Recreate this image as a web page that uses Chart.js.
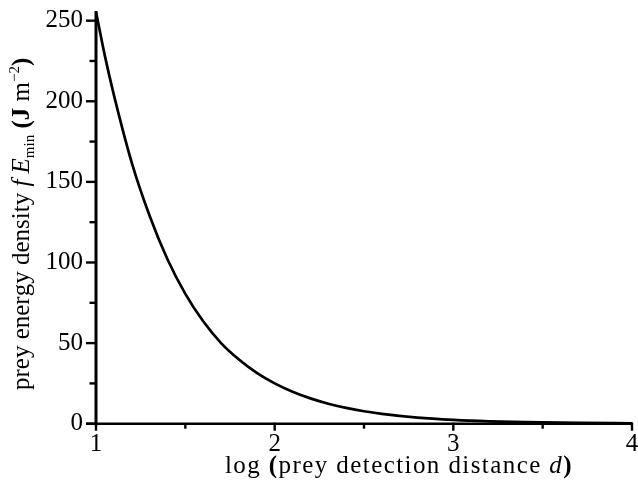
<!DOCTYPE html>
<html>
<head>
<meta charset="utf-8">
<script src="https://cdn.jsdelivr.net/npm/chart.js@4"></script>
<style>
html,body{margin:0;padding:0;background:#fff;}
canvas{display:block;}
</style>
</head>
<body>
<canvas id="c" width="638" height="482"></canvas>
<script>
// log(prey detection distance d)
const xValues = [1.0, 1.05, 1.1, 1.2, 1.3, 1.4, 1.5, 1.6, 1.7, 1.8, 1.9, 2.0, 2.1, 2.2, 2.3, 2.4, 2.5, 2.6, 2.8, 3.0, 3.2, 3.4, 3.7, 4.0];
// prey energy density f E_min (J m^-2)
const yValues = [255.5, 228, 204, 162, 129, 102, 80.5, 63.5, 50, 39.8, 31.5, 25, 19.8, 15.7, 12.4, 9.8, 7.7, 6.1, 3.8, 2.4, 1.5, 0.95, 0.5, 0.25];
const xTickLabels = [1, 2, 3, 4];
const yTickLabels = [0, 50, 100, 150, 200, 250];
const xMinorTicks = [1.5, 2.5, 3.5];
const yMinorTicks = [25, 75, 125, 175, 225];

const FONT = "'Liberation Serif', 'Times New Roman', serif";

const axesPlugin = {
  id: 'axesPlugin',
  afterDraw(chart) {
    const ctx = chart.ctx;
    const xs = chart.scales.x, ys = chart.scales.y;
    const left = xs.getPixelForValue(1), right = xs.getPixelForValue(4);
    const bottom = ys.getPixelForValue(0), top = ys.getPixelForValue(256);
    ctx.save();
    ctx.strokeStyle = '#000';
    ctx.lineCap = 'butt';
    // axis lines
    ctx.lineWidth = 3;
    ctx.beginPath(); ctx.moveTo(left, top); ctx.lineTo(left, bottom + 1.5); ctx.stroke();
    ctx.lineWidth = 2.4;
    ctx.beginPath(); ctx.moveTo(left - 10, bottom); ctx.lineTo(right + 1, bottom); ctx.stroke();
    // y ticks
    ctx.lineWidth = 2.4;
    yTickLabels.forEach(v => { const p = ys.getPixelForValue(v); ctx.beginPath(); ctx.moveTo(left - 10, p); ctx.lineTo(left, p); ctx.stroke(); });
    yMinorTicks.forEach(v => { const p = ys.getPixelForValue(v); ctx.beginPath(); ctx.moveTo(left - 6.5, p); ctx.lineTo(left, p); ctx.stroke(); });
    // x ticks
    ctx.lineWidth = 2.4;
    xTickLabels.forEach(v => { const p = xs.getPixelForValue(v); ctx.beginPath(); ctx.moveTo(p, bottom - 1); ctx.lineTo(p, bottom + 7); ctx.stroke(); });
    xMinorTicks.forEach(v => { const p = xs.getPixelForValue(v); ctx.beginPath(); ctx.moveTo(p, bottom); ctx.lineTo(p, bottom + 5); ctx.stroke(); });

    ctx.fillStyle = '#000';
    ctx.textBaseline = 'alphabetic';
    ctx.textAlign = 'left';
    // x title
    const xParts = [
      ['log ', '25px ' + FONT],
      ['(', 'bold 25px ' + FONT],
      ['prey detection distance ', '25px ' + FONT],
      ['d', 'italic 25px ' + FONT],
      [')', 'bold 25px ' + FONT]
    ];
    drawParts(ctx, xParts, 225, 473, 573 - 225);

    // y title (rotated)
    ctx.translate(29, 390);
    ctx.rotate(-Math.PI / 2);
    const yParts = [
      ['prey energy density ', '25px ' + FONT, 0],
      ['f', 'italic 25px ' + FONT, 0],
      [' E', 'italic 25px ' + FONT, 0],
      ['min', '15px ' + FONT, 5],
      [' ', '25px ' + FONT, 0],
      ['(J', 'bold 25px ' + FONT, 0],
      [' m', '25px ' + FONT, 0],
      ['\u22122', '15px ' + FONT, -10],
      [')', 'bold 25px ' + FONT, 0]
    ];
    drawParts(ctx, yParts, 0, 0, 330);
    ctx.restore();
  }
};

function drawParts(ctx, parts, x0, y0, target) {
  let natural = 0, n = 0;
  parts.forEach(p => { ctx.font = p[1]; natural += ctx.measureText(p[0]).width; n += p[0].length; });
  const ls = Math.max(0, (target - natural) / n);
  let x = x0;
  parts.forEach(p => {
    ctx.font = p[1];
    for (const ch of p[0]) {
      ctx.fillText(ch, x, y0 + (p[2] || 0));
      x += ctx.measureText(ch).width + ls;
    }
  });
}

function zeroPad(s) { s.paddingTop = 0; s.paddingBottom = 0; s.paddingLeft = 0; s.paddingRight = 0; }

new Chart(document.getElementById('c'), {
  type: 'line',
  data: {
    datasets: [{
      data: xValues.map((x, i) => ({ x: x, y: yValues[i] })),
      borderColor: '#000',
      borderWidth: 2.7,
      pointRadius: 0,
      fill: false,
      cubicInterpolationMode: 'monotone'
    }]
  },
  options: {
    responsive: false,
    animation: false,
    layout: { padding: { top: 11, right: 6, left: 0, bottom: 0 } },
    plugins: { legend: { display: false }, tooltip: { enabled: false } },
    scales: {
      x: {
        type: 'linear', min: 1, max: 4,
        grid: { display: false, drawTicks: false },
        border: { display: false },
        ticks: {
          stepSize: 0.5, includeBounds: false, autoSkip: false, maxRotation: 0,
          color: '#000', font: { family: FONT, size: 25 }, padding: 6,
          callback: v => (xTickLabels.includes(v) ? String(v) : '')
        },
        afterFit(s) { s.height = 58.3; zeroPad(s); }
      },
      y: {
        min: 0, max: 256,
        grid: { display: false, drawTicks: false },
        border: { display: false },
        ticks: {
          stepSize: 25, includeBounds: false, autoSkip: false,
          color: '#000', font: { family: FONT, size: 25 }, padding: 13,
          callback: v => (yTickLabels.includes(v) ? String(v) : '')
        },
        afterFit(s) { s.width = 96; zeroPad(s); }
      }
    }
  },
  plugins: [axesPlugin]
});
</script>
</body>
</html>
